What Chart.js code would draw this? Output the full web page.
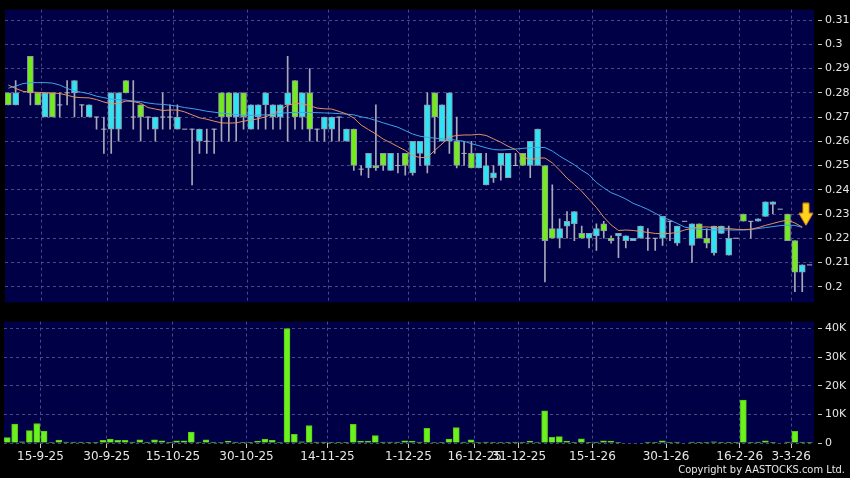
<!DOCTYPE html>
<html>
<head>
<meta charset="utf-8">
<script src="https://cdn.jsdelivr.net/npm/chart.js@4/dist/chart.umd.min.js"></script>
<style>
body{margin:0;background:#000;width:850px;height:478px;overflow:hidden;position:relative}
#priceChart{position:absolute;left:0;top:0}
#volChart{position:absolute;left:0;top:312px}
#copy{position:absolute;right:5px;top:463px;color:#e8e8e8;font:11px "DejaVu Sans Condensed","DejaVu Sans",sans-serif}
</style>
</head>
<body>
<canvas id="priceChart" width="850" height="312"></canvas>
<canvas id="volChart" width="850" height="166"></canvas>
<div id="copy">Copyright by AASTOCKS.com Ltd.</div>
<script>
// daily candles, index 0 = first session on the chart
const openP = [0.280,0.275,null,0.295,0.280,0.270,0.280,0.275,0.280,0.280,
0.275,0.270,0.270,0.265,0.265,0.265,0.285,0.270,0.275,0.270,
0.265,0.270,0.270,0.265,0.265,0.265,0.260,0.260,0.265,0.280,
0.280,0.270,0.280,0.265,0.270,0.275,0.270,0.270,0.275,0.285,
0.270,0.280,0.265,0.265,0.265,0.270,0.260,0.265,0.2485,0.249,
0.250,0.255,0.248,0.250,0.255,0.247,0.255,0.250,0.280,0.260,
0.260,0.260,0.255,0.255,0.249,0.242,0.245,0.250,0.245,0.250,
0.255,0.250,0.250,0.250,0.224,0.220,0.225,0.226,0.222,0.220,
0.221,0.226,0.220,0.221,0.219,0.219,0.220,0.220,0.220,0.220,
0.227,0.218,0.227,0.217,0.226,0.220,0.214,0.222,0.213,0.220,
0.230,0.227,0.227,0.229,0.234,0.232,0.230,0.219,0.206,0.209]

const highP = [0.280,0.285,null,0.295,0.280,0.280,0.280,0.280,0.285,0.285,
0.275,0.275,0.270,0.270,0.280,0.280,0.285,0.285,0.275,0.270,
0.270,0.280,0.275,0.275,0.265,0.265,0.265,0.265,0.265,0.280,
0.280,0.280,0.280,0.275,0.275,0.280,0.275,0.275,0.295,0.285,
0.280,0.290,0.265,0.270,0.270,0.270,0.265,0.265,0.250,0.255,
0.275,0.255,0.255,0.255,0.255,0.260,0.260,0.280,0.280,0.275,
0.280,0.270,0.260,0.260,0.255,0.255,0.250,0.255,0.255,0.255,
0.255,0.260,0.265,0.250,0.242,0.228,0.231,0.231,0.225,0.222,
0.226,0.227,0.221,0.222,0.221,0.220,0.225,0.224,0.220,0.229,
0.227,0.225,0.227,0.226,0.226,0.224,0.225,0.225,0.225,0.220,
0.230,0.227,0.228,0.235,0.235,0.232,0.230,0.219,0.209,0.209]

const lowP = [0.275,0.275,null,0.275,0.275,0.270,0.270,0.270,0.275,0.270,
0.270,0.270,0.265,0.255,0.255,0.260,0.280,0.265,0.260,0.265,
0.260,0.265,0.265,0.265,0.265,0.242,0.255,0.255,0.255,0.260,
0.260,0.260,0.265,0.265,0.265,0.265,0.265,0.265,0.260,0.265,
0.265,0.260,0.260,0.260,0.260,0.260,0.260,0.248,0.246,0.245,
0.248,0.248,0.248,0.247,0.246,0.246,0.250,0.247,0.255,0.260,
0.255,0.249,0.250,0.249,0.249,0.242,0.243,0.244,0.245,0.250,
0.250,0.245,0.250,0.202,0.220,0.216,0.220,0.219,0.220,0.216,
0.215,0.220,0.218,0.212,0.216,0.219,0.220,0.215,0.215,0.217,
0.219,0.217,0.227,0.210,0.220,0.216,0.213,0.222,0.213,0.220,
0.227,0.220,0.227,0.229,0.230,0.232,0.219,0.198,0.198,0.209]

const closeP = [0.275,0.280,null,0.280,0.275,0.280,0.270,0.275,0.280,0.285,
0.275,0.275,0.270,0.265,0.280,0.280,0.280,0.270,0.270,0.270,
0.270,0.270,0.270,0.270,0.265,0.265,0.265,0.260,0.265,0.270,
0.270,0.280,0.270,0.275,0.275,0.280,0.275,0.275,0.280,0.270,
0.280,0.265,0.265,0.270,0.270,0.270,0.265,0.250,0.2485,0.255,
0.249,0.250,0.255,0.250,0.250,0.260,0.260,0.275,0.270,0.275,
0.280,0.250,0.255,0.249,0.255,0.250,0.247,0.255,0.255,0.250,
0.250,0.260,0.265,0.219,0.220,0.224,0.227,0.231,0.220,0.222,
0.224,0.223,0.219,0.222,0.221,0.220,0.225,0.220,0.220,0.229,
0.227,0.225,0.227,0.226,0.220,0.218,0.225,0.225,0.220,0.220,
0.227,0.227,0.228,0.235,0.235,0.232,0.219,0.206,0.209,0.209]

const volume = [1900,6600,450,4300,6800,4200,200,1000,300,300,
300,100,100,900,1350,900,900,300,1100,300,
1100,800,100,800,800,3800,200,1100,300,200,
670,300,50,100,670,1350,900,200,40000,3000,
450,6100,300,300,100,100,100,6500,670,670,
2600,300,300,300,800,670,300,5100,200,100,
1350,5400,300,1100,200,300,100,100,100,300,
100,670,200,11250,2000,2250,670,100,1500,100,
300,800,670,100,0,0,0,300,100,800,
100,300,0,300,100,100,450,100,100,100,
15000,100,300,800,100,0,300,4050,300,100]

const ma10 = [0.2832,0.2818,0.2806,0.2803,0.2802,0.2800,0.2799,0.2797,0.2790,0.2782,
0.2780,0.2779,0.2772,0.2762,0.2754,0.2756,0.2766,0.2764,0.2757,0.2739,
0.2733,0.2727,0.2729,0.2729,0.2721,0.2709,0.2697,0.2691,0.2683,0.2676,
0.2675,0.2676,0.2683,0.2687,0.2693,0.2701,0.2713,0.2729,0.2749,0.2756,
0.2754,0.2747,0.2737,0.2734,0.2733,0.2723,0.2713,0.2696,0.2667,0.2648,
0.2630,0.2609,0.2594,0.2578,0.2562,0.2541,0.2533,0.2533,0.2562,0.2589,
0.2618,0.2624,0.2626,0.2626,0.2629,0.2624,0.2610,0.2596,0.2579,0.2566,
0.2537,0.2523,0.2531,0.2531,0.2511,0.2481,0.2448,0.2422,0.2394,0.2360,
0.2327,0.2287,0.2255,0.2232,0.2234,0.2232,0.2228,0.2224,0.2220,0.2218,
0.2220,0.2224,0.2234,0.2241,0.2246,0.2247,0.2244,0.2242,0.2240,0.2237,
0.2236,0.2237,0.2244,0.2253,0.2261,0.2269,0.2275,0.2263,0.2246,null]

const ma20 = [0.2819,0.2828,0.2838,0.2842,0.2842,0.2842,0.2840,0.2832,0.2818,0.2808,
0.2802,0.2796,0.2786,0.2780,0.2774,0.2771,0.2770,0.2766,0.2764,0.2758,
0.2754,0.2752,0.2749,0.2745,0.2739,0.2735,0.2730,0.2724,0.2720,0.2716,
0.2713,0.2710,0.2707,0.2707,0.2708,0.2709,0.2711,0.2715,0.2718,0.2719,
0.2719,0.2719,0.2718,0.2717,0.2716,0.2714,0.2712,0.2709,0.2701,0.2695,
0.2686,0.2676,0.2667,0.2658,0.2644,0.2630,0.2621,0.2616,0.2613,0.2610,
0.2609,0.2604,0.2600,0.2590,0.2582,0.2573,0.2566,0.2564,0.2566,0.2568,
0.2571,0.2573,0.2575,0.2574,0.2560,0.2539,0.2521,0.2503,0.2481,0.2462,
0.2430,0.2408,0.2388,0.2376,0.2362,0.2344,0.2332,0.2319,0.2303,0.2287,
0.2275,0.2261,0.2246,0.2241,0.2237,0.2236,0.2234,0.2234,0.2234,0.2234,
0.2234,0.2236,0.2240,0.2244,0.2248,0.2252,0.2254,0.2253,0.2245,null]

// date ticks sit between sessions
const dateLabels = ["15-9-25","30-9-25","15-10-25","30-10-25","14-11-25","1-12-25","16-12-25","31-12-25","15-1-26","30-1-26","16-2-26","3-3-26"]
const dateTickPos = [4.5,13.5,22.5,32.5,43.5,54.5,63.5,69.5,79.5,89.5,99.5,106.5]
const priceTicks = [0.20,0.21,0.22,0.23,0.24,0.25,0.26,0.27,0.28,0.29,0.30,0.31]
const volumeTicks = [0,10000,20000,30000,40000]

// signal arrow over the last sessions
const signalX = [108.5]
const signalY = [0.2297]

const upColor = "#2fe3f2"
const downColor = "#74ec1c"
const gridColor = "#4a4a82"
const textColor = "#e6e6e6"

Chart.defaults.font.family = "DejaVu Sans"
Chart.defaults.animation = false

const plotBg = {
  id: "plotBg",
  beforeDraw(chart){
    const a = chart.chartArea
    const c = chart.ctx
    c.save()
    c.fillStyle = "#000046"
    c.fillRect(a.left, a.top, a.right - a.left, a.bottom - a.top)
    c.restore()
  }
}

let wickData = [], bodyData = [], bodyColors = [], dojiData = []
for (let i = 0; i < openP.length; i++) {
  if (openP[i] === null) continue
  if (highP[i] > lowP[i]) wickData.push({x: i, y: [lowP[i], highP[i]]})
  if (openP[i] === closeP[i]) {
    dojiData.push({x: i, y: openP[i]})
  } else {
    bodyData.push({x: i, y: [openP[i], closeP[i]]})
    bodyColors.push(closeP[i] > openP[i] ? upColor : downColor)
  }
}

const arrowImg = document.createElement("canvas")
arrowImg.width = 16
arrowImg.height = 25
const ac = arrowImg.getContext("2d")
ac.beginPath()
ac.moveTo(5, 1); ac.lineTo(11, 1); ac.lineTo(11, 11); ac.lineTo(15, 11)
ac.lineTo(8, 23); ac.lineTo(1, 11); ac.lineTo(5, 11); ac.closePath()
ac.fillStyle = "#ffd51c"
ac.fill()
ac.strokeStyle = "#e8900a"
ac.lineWidth = 1
ac.stroke()

function xScale(showLabels){
  return {
    type: "linear",
    min: -0.45,
    max: 109.6,
    offset: false,
    afterBuildTicks(s){ s.ticks = dateTickPos.map(v => ({value: v})) },
    afterFit(s){ if (showLabels) s.height = 35 },
    border: {display: false, dash: [3, 3]},
    grid: {color: gridColor, offset: false, drawTicks: showLabels, tickLength: 5, tickColor: "#c8c8c8"},
    ticks: {
      display: showLabels,
      autoSkip: false,
      maxRotation: 0,
      minRotation: 0,
      padding: 2,
      color: textColor,
      font: {size: 12},
      callback: (v, i) => dateLabels[i]
    }
  }
}

new Chart(document.getElementById("priceChart"), {
  type: "bar",
  plugins: [plotBg],
  data: {
    datasets: [
      {type: "line", data: ma10.map((v, i) => ({x: i, y: v})), borderColor: "#e59160", borderWidth: 1, pointRadius: 0, order: 0},
      {type: "line", data: ma20.map((v, i) => ({x: i, y: v})), borderColor: "#3fa3e8", borderWidth: 1, pointRadius: 0, order: 0},
      {type: "scatter", data: signalX.map((v, i) => ({x: v, y: signalY[i]})), pointStyle: arrowImg, order: 0},
      {type: "scatter", data: dojiData, pointStyle: "line", radius: 2.6, borderColor: "#b4b4c0", borderWidth: 1, order: 1},
      {data: bodyData, backgroundColor: bodyColors, borderColor: "#8e98aa", borderWidth: 1, borderSkipped: false, barThickness: 6, grouped: false, order: 2},
      {data: wickData, backgroundColor: "#a8a8b8", borderWidth: 0, barThickness: 1, grouped: false, order: 3}
    ]
  },
  options: {
    responsive: false,
    layout: {padding: {left: 4, top: 6, bottom: 7, right: 0}},
    plugins: {legend: {display: false}, tooltip: {enabled: false}},
    scales: {
      x: xScale(false),
      y: {
        position: "right",
        min: 0.19354,
        max: 0.31432,
        afterFit(s){ s.width = 36 },
        afterBuildTicks(s){ s.ticks = priceTicks.map(v => ({value: v})) },
        border: {display: false, dash: [3, 3]},
        grid: {color: gridColor, tickLength: 8, tickColor: "#c8c8c8", tickBorderDash: [4, 4], tickBorderDashOffset: 4},
        ticks: {color: textColor, padding: 3, font: {size: 11}, callback: v => String(+v.toFixed(2))}
      }
    }
  }
})

new Chart(document.getElementById("volChart"), {
  type: "bar",
  plugins: [plotBg],
  data: {
    datasets: [
      {data: volume.map((v, i) => ({x: i, y: v})), backgroundColor: "#6cf01e", borderColor: "#58c81a", borderWidth: 1, borderSkipped: "bottom", barThickness: 6, grouped: false}
    ]
  },
  options: {
    responsive: false,
    layout: {padding: {left: 4, top: 6, bottom: 0, right: 0}},
    plugins: {legend: {display: false}, tooltip: {enabled: false}},
    scales: {
      x: xScale(true),
      y: {
        position: "right",
        min: 0,
        max: 42400,
        afterFit(s){ s.width = 36 },
        afterBuildTicks(s){ s.ticks = volumeTicks.map(v => ({value: v})) },
        border: {display: false, dash: [3, 3]},
        grid: {color: gridColor, tickLength: 8, tickColor: "#c8c8c8", tickBorderDash: [4, 4], tickBorderDashOffset: 4},
        ticks: {color: textColor, padding: 3, font: {size: 11}, callback: v => v === 0 ? "0" : (v / 1000) + "K"}
      }
    }
  }
})
</script>
</body>
</html>
